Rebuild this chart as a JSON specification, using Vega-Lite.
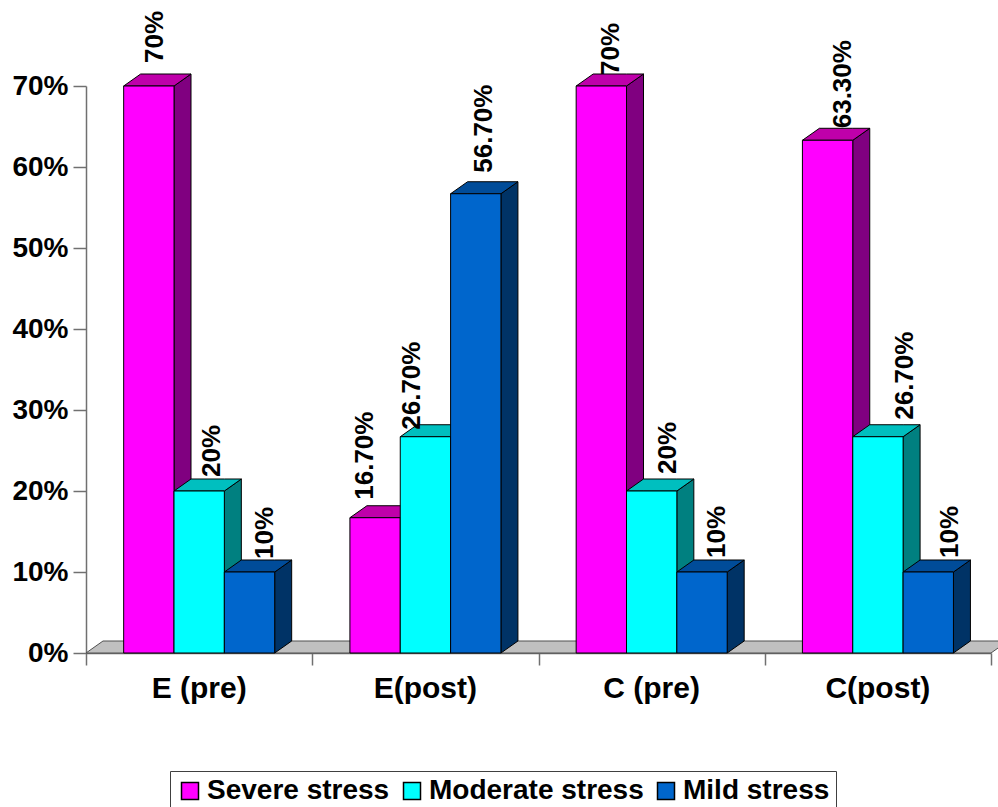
{
  "$schema": "https://vega.github.io/schema/vega-lite/v6.json",
  "width": 905,
  "height": 567,
  "padding": {"left": 86, "top": 86, "right": 7, "bottom": 154},
  "autosize": {"type": "none"},
  "background": "white",
  "config": {
    "view": {"stroke": null},
    "text": {"font": "Liberation Sans", "fontWeight": "bold", "color": "black"},
    "axis": {"grid": false, "title": null, "domainColor": "#707070", "tickColor": "#707070", "domainWidth": 1.5, "tickWidth": 1.5}
  },
  "data": {"values": [
    {"group": "E (pre)", "series": "Severe stress", "value": 0.7, "label": "70%"},
    {"group": "E (pre)", "series": "Moderate stress", "value": 0.2, "label": "20%"},
    {"group": "E (pre)", "series": "Mild stress", "value": 0.1, "label": "10%"},
    {"group": "E(post)", "series": "Severe stress", "value": 0.167, "label": "16.70%"},
    {"group": "E(post)", "series": "Moderate stress", "value": 0.267, "label": "26.70%"},
    {"group": "E(post)", "series": "Mild stress", "value": 0.567, "label": "56.70%"},
    {"group": "C (pre)", "series": "Severe stress", "value": 0.7, "label": "70%"},
    {"group": "C (pre)", "series": "Moderate stress", "value": 0.2, "label": "20%"},
    {"group": "C (pre)", "series": "Mild stress", "value": 0.1, "label": "10%"},
    {"group": "C(post)", "series": "Severe stress", "value": 0.633, "label": "63.30%"},
    {"group": "C(post)", "series": "Moderate stress", "value": 0.267, "label": "26.70%"},
    {"group": "C(post)", "series": "Mild stress", "value": 0.1, "label": "10%"}
  ]},
  "transform": [
    {"calculate": "indexof(['E (pre)','E(post)','C (pre)','C(post)'], datum.group)", "as": "gi"},
    {"calculate": "indexof(['Severe stress','Moderate stress','Mild stress'], datum.series)", "as": "si"},
    {"calculate": "datum.gi + 0.1665 + datum.si * 0.2225", "as": "left"},
    {"calculate": "datum.left + 0.2225", "as": "right"},
    {"calculate": "datum.gi * 3 + datum.si", "as": "id"}
  ],
  "layer": [
    {
      "description": "Grey floor of the 3D plot, a parallelogram running behind the bars",
      "data": {"values": [{"corner": 0}, {"corner": 1}, {"corner": 2}, {"corner": 3}]},
      "transform": [
        {"calculate": "[0, 0.0751, 4, 4.0751][datum.corner]", "as": "px"},
        {"calculate": "[0, 0.0148, 0.0148, 0.0148][datum.corner]", "as": "hi"},
        {"calculate": "[0, 0, 0, 0.0148][datum.corner]", "as": "lo"}
      ],
      "mark": {"type": "area", "fill": "#c0c0c0", "stroke": "#505050", "strokeWidth": 1, "clip": false},
      "encoding": {
        "x": {"field": "px", "type": "quantitative", "scale": {"domain": [0, 4], "nice": false, "zero": false}, "axis": {"values": [0, 1, 2, 3, 4], "labels": false, "tickSize": 12}},
        "y": {"field": "hi", "type": "quantitative", "scale": {"domain": [0, 0.7], "nice": false}, "axis": {"values": [0, 0.1, 0.2, 0.3, 0.4, 0.5, 0.6, 0.7], "format": ".0%", "tickSize": 13, "labelPadding": 5, "labelFont": "Liberation Sans", "labelFontWeight": "bold", "labelFontSize": 28, "labelColor": "black"}},
        "y2": {"field": "lo"}
      }
    },
    {
      "description": "Shaded right-hand side of every bar",
      "transform": [
        {"calculate": "[0, 1]", "as": "corner"},
        {"flatten": ["corner"]},
        {"calculate": "datum.right + datum.corner * 0.0751", "as": "px"},
        {"calculate": "datum.value + datum.corner * 0.0148", "as": "hi"},
        {"calculate": "datum.corner * 0.0148", "as": "lo"}
      ],
      "mark": {"type": "area", "stroke": "black", "strokeWidth": 1},
      "encoding": {
        "x": {"field": "px", "type": "quantitative"},
        "y": {"field": "hi", "type": "quantitative"},
        "y2": {"field": "lo"},
        "detail": {"field": "id"},
        "color": {"field": "series", "type": "nominal", "legend": null, "scale": {"domain": ["Severe stress", "Moderate stress", "Mild stress"], "range": ["#800080", "#008080", "#003366"]}}
      }
    },
    {
      "description": "Top face of every bar",
      "transform": [
        {"calculate": "[0, 1, 2, 3]", "as": "corner"},
        {"flatten": ["corner"]},
        {"calculate": "[datum.left, datum.left + 0.0751, datum.right, datum.right + 0.0751][datum.corner]", "as": "px"},
        {"calculate": "datum.value + (datum.corner > 0 ? 0.0148 : 0)", "as": "hi"},
        {"calculate": "datum.value + (datum.corner > 2 ? 0.0148 : 0)", "as": "lo"}
      ],
      "mark": {"type": "area", "stroke": "black", "strokeWidth": 1},
      "encoding": {
        "x": {"field": "px", "type": "quantitative"},
        "y": {"field": "hi", "type": "quantitative"},
        "y2": {"field": "lo"},
        "detail": {"field": "id"},
        "color": {"field": "series", "type": "nominal", "legend": null, "scale": {"domain": ["Severe stress", "Moderate stress", "Mild stress"], "range": ["#bf00aa", "#00bfbf", "#004c99"]}}
      }
    },
    {
      "description": "Front face of every bar, which also carries the legend",
      "mark": {"type": "rect", "stroke": "black", "strokeWidth": 1},
      "encoding": {
        "x": {"field": "left", "type": "quantitative"},
        "x2": {"field": "right"},
        "y": {"field": "value", "type": "quantitative"},
        "y2": {"datum": 0},
        "color": {"field": "series", "type": "nominal",
          "scale": {"domain": ["Severe stress", "Moderate stress", "Mild stress"], "range": ["#ff00ff", "#00ffff", "#0066cc"]},
          "legend": {"orient": "none", "legendX": 84, "legendY": 685, "direction": "horizontal", "columns": 3, "title": null,
            "symbolType": "square", "symbolSize": 289, "symbolStrokeColor": "black", "symbolStrokeWidth": 1.5, "symbolOpacity": 1,
            "labelFont": "Liberation Sans", "labelFontWeight": "bold", "labelFontSize": 28, "labelColor": "black", "labelOffset": 3, "labelLimit": 400,
            "columnPadding": 8, "padding": 6, "strokeColor": "#404040", "fillColor": "white"}
        }
      }
    },
    {
      "description": "Rotated value labels, each nudged clear of its neighbours",
      "transform": [
        {"calculate": "(datum.left + datum.right) / 2 + [6, 13, 15, -10, -13, 8, 10, 16, 15, 15, 27, 22][datum.id] / 226.25", "as": "lx"},
        {"calculate": "datum.value + [23, 14, 13, 18, 7, 21, 11, 17, 14, 12, 17, 14][datum.id] / 810", "as": "ly"}
      ],
      "mark": {"type": "text", "angle": 270, "align": "left", "baseline": "middle", "fontSize": 26},
      "encoding": {
        "x": {"field": "lx", "type": "quantitative"},
        "y": {"field": "ly", "type": "quantitative"},
        "text": {"field": "label"}
      }
    },
    {
      "description": "Group names under the axis",
      "data": {"values": [
        {"name": "E (pre)", "centre": 0.5},
        {"name": "E(post)", "centre": 1.5},
        {"name": "C (pre)", "centre": 2.5},
        {"name": "C(post)", "centre": 3.5}
      ]},
      "mark": {"type": "text", "align": "center", "baseline": "alphabetic", "dy": 45, "fontSize": 30},
      "encoding": {
        "x": {"field": "centre", "type": "quantitative"},
        "y": {"datum": 0},
        "text": {"field": "name"}
      }
    }
  ],
  "resolve": {"scale": {"color": "independent"}}
}
